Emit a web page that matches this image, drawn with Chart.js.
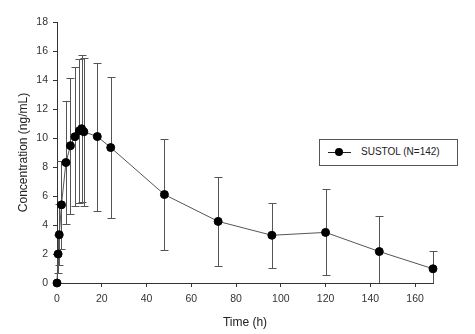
<!DOCTYPE html>
<html lang="en">
  <head>
    <meta charset="UTF-8" />
    <title>SUSTOL concentration</title>
    <script src="https://cdn.jsdelivr.net/npm/chart.js"></script>
    <style>
      body { margin: 0; background: #fff; }
      #wrap { position: relative; width: 475px; height: 334px; }
      #legend {
        position: absolute; left: 319px; top: 139px; width: 137px; height: 25px;
        border: 1px solid #555; background: #fff;
        font: 10px "Liberation Sans", Arial, sans-serif; color: #222;
      }
      #legend .ln { position: absolute; left: 8px; top: 12px; width: 23px; height: 1px; background: #222; }
      #legend .dot { position: absolute; left: 15px; top: 8px; width: 8px; height: 8px; border-radius: 50%; background: #000; }
      #legend .txt { position: absolute; left: 41px; top: 6px; }
    </style>
  </head>
  <body>
    <div id="wrap">
      <canvas id="pk" width="475" height="334"></canvas>
      <div id="legend"><div class="ln"></div><div class="dot"></div><div class="txt">SUSTOL (N=142)</div></div>
    </div>

    <script>
      // time points (h), mean concentration and SD (ng/mL)
      const hours = [0, 0.5, 1, 2, 4, 6, 8, 10, 11, 12, 18, 24, 48, 72, 96, 120, 144, 168];
      const meanConc = [0, 2.0, 3.33, 5.39, 8.31, 9.47, 10.09, 10.5, 10.64, 10.43, 10.1, 9.34, 6.1, 4.25, 3.29, 3.49, 2.17, 0.98];
      const sdConc = [0, 1.3, 2.1, 3.05, 4.25, 4.7, 4.8, 4.95, 5.05, 5.1, 5.1, 4.88, 3.85, 3.05, 2.26, 2.97, 2.47, 1.2];
      const xTicks = [0, 20, 40, 60, 80, 100, 120, 140, 160];
      const yTicks = [0, 2, 4, 6, 8, 10, 12, 14, 16, 18];

      const font = { family: "'Liberation Sans', Arial, sans-serif", size: 10.5 };

      // draws mean +/- SD bars, clipped at the x axis
      const errorBars = {
        id: "errorBars",
        beforeDatasetsDraw(chart) {
          const { ctx, scales: { x, y }, chartArea } = chart;
          ctx.save();
          ctx.strokeStyle = "#555";
          ctx.lineWidth = 1;
          hours.forEach((h, i) => {
            if (!sdConc[i]) return;
            const px = Math.round(x.getPixelForValue(h)) + 0.5;
            const lo = meanConc[i] - sdConc[i];
            const hi = meanConc[i] + sdConc[i];
            const pyHi = Math.round(y.getPixelForValue(hi)) + 0.5;
            const pyLo = Math.min(Math.round(y.getPixelForValue(Math.max(lo, 0))) + 0.5, chartArea.bottom);
            ctx.beginPath();
            ctx.moveTo(px, pyHi);
            ctx.lineTo(px, pyLo);
            ctx.moveTo(px - 4, pyHi);
            ctx.lineTo(px + 4, pyHi);
            if (lo > 0) {
              ctx.moveTo(px - 4, pyLo);
              ctx.lineTo(px + 4, pyLo);
            }
            ctx.stroke();
          });
          ctx.restore();
        },
      };

      new Chart(document.getElementById("pk"), {
        type: "scatter",
        data: {
          datasets: [
            {
              label: "SUSTOL (N=142)",
              data: hours.map((h, i) => ({ x: h, y: meanConc[i] })),
              showLine: true,
              clip: false,
              borderColor: "#555",
              borderWidth: 1,
              pointBackgroundColor: "#000",
              pointBorderColor: "#000",
              pointRadius: 4,
              tension: 0,
            },
          ],
        },
        options: {
          responsive: false,
          animation: false,
          layout: { padding: { top: 22, right: 42, left: 10, bottom: 0 } },
          plugins: { legend: { display: false }, tooltip: { enabled: false } },
          scales: {
            x: {
              type: "linear",
              min: 0,
              max: 168,
              afterBuildTicks: (s) => { s.ticks = xTicks.map((v) => ({ value: v })); },
              afterFit: (s) => { s.height = 51; },
              border: { color: "#333" },
              grid: { drawOnChartArea: false, tickLength: 4, color: "#333" },
              ticks: { font, color: "#333", padding: 6, maxRotation: 0 },
              title: { display: true, text: "Time (h)", font: { ...font, size: 12 }, color: "#222", padding: { top: 3 } },
            },
            y: {
              min: 0,
              max: 18,
              afterBuildTicks: (s) => { s.ticks = yTicks.map((v) => ({ value: v })); },
              afterFit: (s) => { s.width = 47; },
              border: { color: "#333" },
              grid: { drawOnChartArea: false, tickLength: 4, color: "#333" },
              ticks: { font, color: "#333", padding: 5 },
              title: { display: true, text: "Concentration (ng/mL)", font: { ...font, size: 12 }, color: "#222", padding: { top: 6, bottom: 0 } },
            },
          },
        },
        plugins: [errorBars],
      });
    </script>
  </body>
</html>
